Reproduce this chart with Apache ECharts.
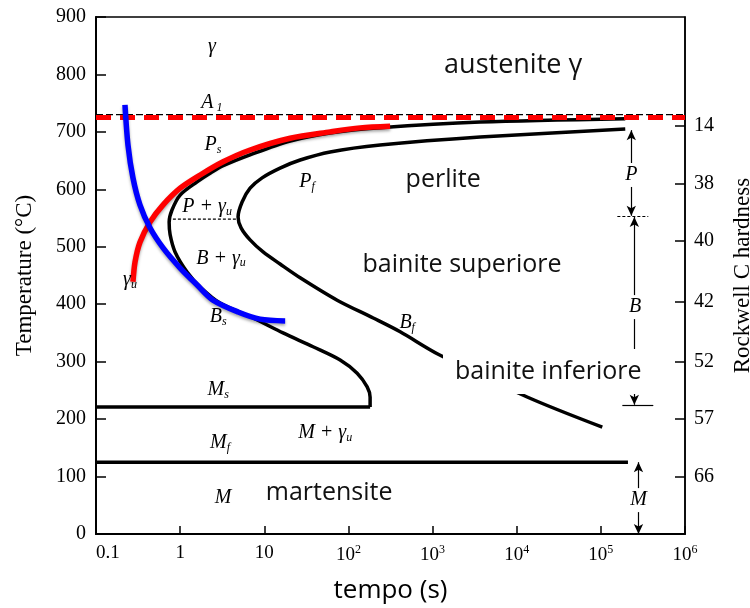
<!DOCTYPE html>
<html><head><meta charset="utf-8">
<script src="https://cdn.jsdelivr.net/npm/echarts@6/dist/echarts.min.js"></script>
<style>html,body{margin:0;padding:0;background:#fff}#c{width:750px;height:608px}</style>
</head><body><div id="c"></div>
<script>
// ---- data (time in s, temperature in °C) ----
const timeExponents = [-1, 0, 1, 2, 3, 4, 5, 6];
const timeTickLabels = ['0.1', '1', '10', '{b|10}{s|2}', '{b|10}{s|3}', '{b|10}{s|4}', '{b|10}{s|5}', '{b|10}{s|6}'];
const hardnessValues = ['14', '38', '40', '42', '52', '57', '66'];
const hardnessTemps = [710, 610, 510, 405, 300, 200, 100];

const a1Temp = 730;
const a1RedTemp = 725;
const msTemp = 221;
const mfTemp = 125;
const msEndTime = 181;
const mfEndTime = 2.1e5;
const noseDashTemp = 548;
const noseDashTimes = [0.82, 4.76];

const startCurve = [[1.95e5,723],[3680,717],[238,707],[60.6,698],[20.3,684],[6.78,660],[3.24,641],[2.27,628],[1.59,613],[1.0,590],[0.80,564],[0.74,543],[0.76,521],[0.87,491],[1.21,456],[1.73,430],[2.98,402],[7.36,376],[16.7,350],[38,326],[79.7,303],[127,280],[167,256],[181,238],[181,221]];
const finishCurve = [[1.95e5,705],[3680,691],[238,677],[60.6,665],[26.7,651],[15.4,637],[9.42,620],[6.78,602],[5.45,578],[4.88,552],[5.30,533],[6.78,512],[9.68,491],[15.4,470],[26.7,446],[73.4,407],[197,376],[412,352],[1167,313],[13300,238.5],[1.04e5,186]];
const redCurve = [[0.275,439],[0.291,473.5],[0.333,508],[0.438,543],[0.627,573],[1.0,602],[1.73,625],[3.24,648],[6.78,668.5],[20.3,689],[60.6,700],[138,707],[313,710]];
const blueCurve = [[0.221,747],[0.240,677],[0.275,620],[0.333,573],[0.438,533],[0.627,498],[1.0,463],[1.59,433.5],[2.46,407],[4.88,386.5],[8.91,374],[17.7,371]];

// right-side range arrows: [time, fromTemp, toTemp]
const rangeArrows = [[2.3e5, 703, 554], [2.5e5, 552, 225], [2.8e5, 125, 0]];
// boundary ticks: [fromTime, toTime, temp]
const rangeTicks = [[1.57e5, 3.66e5, 554], [1.8e5, 4.2e5, 225]];
const rangeLabels = [[2.3e5, 625, 'P'], [2.55e5, 395, 'B'], [2.8e5, 59, 'M']];

// phase labels: [time, temp, text]
const phaseLabels = [
  [2.39, 848, '{i|γ}'],
  [2.39, 750, '{i|A}{sub| 1}'],
  [2.46, 677, '{i|P}{sub|s}'],
  [2.09, 569, '{i|P + γ}{sub|u}'],
  [3.06, 480, '{i|B + γ}{sub|u}'],
  [0.254, 442, '{i|γ}{sub|u}'],
  [32.3, 613, '{i|P}{sub|f}'],
  [2.83, 378, '{i|B}{sub|s}'],
  [499, 367, '{i|B}{sub|f}'],
  [2.83, 251, '{i|M}{sub|s}'],
  [2.98, 158, '{i|M}{sub|f}'],
  [52.9, 176, '{i|M + γ}{sub|u}'],
  [3.24, 63, '{i|M}']
];
const regionLabels = [
  [9080, 816, 'austenite γ', 27],
  [1337, 616, 'perlite', 25],
  [2240, 468, 'bainite superiore', 25],
  [58.9, 71, 'martensite', 25]
];
const boxedLabel = [23700, 283, 'bainite inferiore'];

// ---- chart ----
const serif = 'Liberation Serif';
const sans = 'Open Sans';
const chart = echarts.init(document.getElementById('c'), null, {renderer: 'canvas'});

const richItalic = {
  i: {fontFamily: serif, fontStyle: 'italic', fontSize: 20, color: '#000', lineHeight: 22},
  sub: {fontFamily: serif, fontStyle: 'italic', fontSize: 12, color: '#000', lineHeight: 12, verticalAlign: 'bottom'}
};

function lineSeries(data, style, extra) {
  return Object.assign({
    type: 'line', data: data, symbol: 'none', silent: true, animation: false,
    lineStyle: style, z: 3
  }, extra || {});
}
const hiddenDot = {color: 'rgba(0,0,0,0)', opacity: 1};

const option = {
  backgroundColor: '#fff',
  animation: false,
  grid: {left: 96, right: 65, top: 17, bottom: 74, outerBoundsMode: 'none', containLabel: false,
         show: true, borderColor: '#000', borderWidth: 1.5, backgroundColor: 'transparent'},
  xAxis: {
    type: 'log', logBase: 10, min: 0.1, max: 1e6,
    name: 'tempo (s)', nameLocation: 'middle', nameGap: 44,
    nameTextStyle: {fontFamily: sans, fontSize: 26, color: '#000'},
    axisLine: {show: true, onZero: false, lineStyle: {color: '#000', width: 2}},
    axisTick: {show: true, inside: true, length: 8, lineStyle: {color: '#000', width: 1.5}},
    minorTick: {show: false},
    splitLine: {show: false},
    axisLabel: {
      margin: 10, color: '#000', alignMinLabel: 'left',
      fontFamily: serif, fontSize: 19,
      formatter: function (v) {
        const e = Math.round(Math.log10(v));
        const idx = timeExponents.indexOf(e);
        return idx >= 0 ? timeTickLabels[idx] : '';
      },
      rich: {
        b: {fontFamily: serif, fontSize: 19, color: '#000', lineHeight: 22},
        s: {fontFamily: serif, fontSize: 12, color: '#000', lineHeight: 10, verticalAlign: 'top'}
      }
    }
  },
  yAxis: [{
    type: 'value', min: 0, max: 900, interval: 100, position: 'left',
    name: 'Temperature (°C)', nameLocation: 'middle', nameGap: 60, nameRotate: 90,
    nameTextStyle: {fontFamily: serif, fontSize: 23, color: '#000'},
    axisLine: {show: true, lineStyle: {color: '#000', width: 2}},
    axisTick: {show: true, inside: true, length: 10, lineStyle: {color: '#000', width: 1.5}},
    splitLine: {show: false},
    axisLabel: {fontFamily: serif, fontSize: 20, color: '#000', margin: 10}
  }, {
    type: 'value', min: 0, max: 900, position: 'right',
    name: 'Rockwell C hardness', nameLocation: 'middle', nameGap: 46, nameRotate: 90,
    nameTextStyle: {fontFamily: serif, fontSize: 23, color: '#000'},
    axisLine: {show: true, lineStyle: {color: '#000', width: 1.5}},
    axisTick: {show: true, inside: true, length: 10, customValues: hardnessTemps, lineStyle: {color: '#000', width: 1.5}},
    splitLine: {show: false},
    axisLabel: {
      fontFamily: serif, fontSize: 20, color: '#000', margin: 9, customValues: hardnessTemps,
      formatter: function (v) {
        const idx = hardnessTemps.indexOf(v);
        return idx >= 0 ? hardnessValues[idx] : '';
      }
    }
  }],
  series: [
    lineSeries([[0.1, a1Temp], [1e6, a1Temp]], {color: '#000', width: 1.3, type: [7, 3]}),
    lineSeries([[0.1, a1RedTemp], [1e6, a1RedTemp]], {color: '#ff0000', width: 5, type: [15, 9]}, {z: 4}),
    lineSeries(startCurve, {color: '#000', width: 3.5}, {smooth: 0.3}),
    lineSeries(finishCurve, {color: '#000', width: 3.5}, {smooth: 0.3}),
    lineSeries([[0.1, msTemp], [msEndTime, msTemp]], {color: '#000', width: 3.5}),
    lineSeries([[0.1, mfTemp], [mfEndTime, mfTemp]], {color: '#000', width: 3.5}),
    lineSeries([[noseDashTimes[0], noseDashTemp], [noseDashTimes[1], noseDashTemp]], {color: '#000', width: 1.2, type: [3, 2]}),
    lineSeries(redCurve, {color: '#ff0000', width: 5.5, shadowBlur: 3, shadowColor: 'rgba(0,0,0,0.35)', shadowOffsetY: 2}, {smooth: 0.3, z: 5}),
    lineSeries(blueCurve, {color: '#0000ff', width: 5.5, shadowBlur: 3, shadowColor: 'rgba(0,0,0,0.35)', shadowOffsetY: 2}, {smooth: 0.3, z: 5}),
    {
      type: 'line', data: [], silent: true, animation: false, z: 3,
      markLine: {
        silent: true, animation: false, symbolSize: [7, 10],
        label: {show: false},
        lineStyle: {color: '#000', width: 1.2, type: 'solid'},
        data: rangeArrows.map(a => [{coord: [a[0], a[1]], symbol: 'arrow'}, {coord: [a[0], a[2]], symbol: 'arrow'}])
          .concat(rangeTicks.map((t, i) => [{coord: [t[0], t[2]], symbol: 'none', lineStyle: {type: i === 0 ? [3, 2] : 'solid', width: 1.2, color: '#000'}}, {coord: [t[1], t[2]], symbol: 'none'}]))
      }
    },
    {
      type: 'scatter', silent: true, animation: false, z: 6,
      symbol: 'circle', symbolSize: 1, itemStyle: hiddenDot,
      data: phaseLabels.map(d => ({value: [d[0], d[1]], label: {formatter: d[2]}})),
      label: {show: true, position: 'inside', rich: richItalic}
    },
    {
      type: 'scatter', silent: true, animation: false, z: 6,
      symbol: 'circle', symbolSize: 1, itemStyle: hiddenDot,
      data: rangeLabels.map(d => ({value: [d[0], d[1]], label: {formatter: '{i|' + d[2] + '}'}})),
      label: {show: true, position: 'inside', rich: {i: {fontFamily: serif, fontStyle: 'italic', fontSize: 20, color: '#000', backgroundColor: '#fff', padding: [2, 2]}}}
    },
    {
      type: 'scatter', silent: true, animation: false, z: 6,
      symbol: 'circle', symbolSize: 1, itemStyle: hiddenDot,
      data: regionLabels.map(d => ({value: [d[0], d[1]], label: {formatter: d[2], fontSize: d[3]}})),
      label: {show: true, position: 'inside', fontFamily: sans, color: '#111', fontSize: 25}
    },
    {
      type: 'scatter', silent: true, animation: false, z: 7,
      symbol: 'circle', symbolSize: 1, itemStyle: hiddenDot,
      data: [{value: [boxedLabel[0], boxedLabel[1]], label: {formatter: boxedLabel[2]}}],
      label: {show: true, position: 'inside', fontFamily: sans, color: '#111', fontSize: 25, backgroundColor: '#fff', padding: [10, 12, 10, 12]}
    }
  ]
};
chart.setOption(option);
</script>
</body></html>
